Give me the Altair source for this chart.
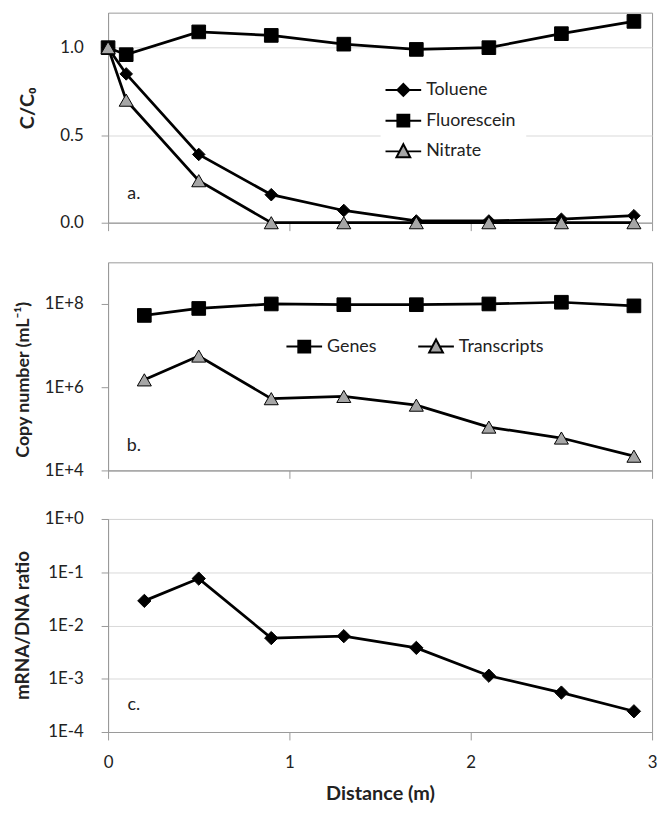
import altair as alt
import pandas as pd

# ---------------- data ----------------
dist_a = [0, 0.1, 0.5, 0.9, 1.3, 1.7, 2.1, 2.5, 2.9]
toluene = [1.0, 0.85, 0.39, 0.16, 0.07, 0.01, 0.01, 0.02, 0.04]
fluorescein = [1.0, 0.96, 1.09, 1.07, 1.02, 0.99, 1.0, 1.08, 1.15]
nitrate = [1.0, 0.70, 0.24, 0.0, 0.0, 0.0, 0.0, 0.0, 0.0]
series_a = ["Toluene", "Fluorescein", "Nitrate"]

dist_b = [0.2, 0.5, 0.9, 1.3, 1.7, 2.1, 2.5, 2.9]
genes = [5.3e7, 7.8e7, 1.0e8, 9.6e7, 9.6e7, 1.0e8, 1.1e8, 9.0e7]
transcripts = [1.5e6, 5.6e6, 5.3e5, 6.0e5, 3.7e5, 1.1e5, 6.0e4, 2.2e4]
series_b = ["Genes", "Transcripts"]

ratio = [0.029, 0.076, 0.0058, 0.0063, 0.0038, 0.00114, 0.00055, 0.000245]

x_ticks = [0, 1, 2, 3]
ticks_a = [0, 0.5, 1.0]
ticks_b = [1e4, 1e6, 1e8]
ticks_c = [1e-4, 1e-3, 1e-2, 1e-1, 1]
panel_labels = ["a.", "b.", "c."]

# ---------------- styles ----------------
FONT = "Lato"
TXT = "#222222"
GRAY = "#a6a6a6"
W = 549
LINE_W = 2.75

P_DIAMOND = "M-1.5,0H1.5M0,-0.5L0.5,0L0,0.5L-0.5,0Z"
P_SQUARE = "M-1.5,0H1.5M-0.5,-0.5H0.5V0.5H-0.5Z"
P_TRI = "M-1.5,0H-0.3M0.3,0H1.5M0,-0.6L0.58,0.5L-0.58,0.5Z"

df_a = pd.DataFrame({
    "dist": dist_a * 3,
    "value": toluene + fluorescein + nitrate,
    "sa": [series_a[0]] * 9 + [series_a[1]] * 9 + [series_a[2]] * 9,
})
df_b = pd.DataFrame({
    "dist": dist_b * 2,
    "value": genes + transcripts,
    "sb": [series_b[0]] * 8 + [series_b[1]] * 8,
})
df_c = pd.DataFrame({"dist": dist_b, "value": ratio})


def x_enc(show_labels):
    if show_labels:
        ax = alt.Axis(values=x_ticks, title="Distance (m)", tickSize=8, labelPadding=15,
                      labelFlush=False, grid=False, titlePadding=13)
    else:
        ax = alt.Axis(values=x_ticks, labels=False, title=None, tickSize=8, grid=False)
    return alt.X("dist:Q", scale=alt.Scale(domain=[0, 3], nice=False), axis=ax)


def letter(idx, y):
    return alt.Chart(pd.DataFrame({"t": [panel_labels[idx]]})).mark_text(
        font=FONT, fontSize=18, color=TXT, align="center", baseline="middle"
    ).encode(text="t:N", x=alt.value(26), y=alt.value(y))


def legend(x, y, direction, columns, pad, row_pad, col_pad):
    return alt.Legend(
        title=None, orient="none", legendX=x, legendY=y, direction=direction,
        columns=columns, padding=pad, fillColor="white", symbolOpacity=1,
        symbolStrokeWidth=2, symbolSize=576,
        labelFont=FONT, labelFontSize=18, labelColor=TXT, labelOffset=10,
        rowPadding=row_pad, columnPadding=col_pad,
    )


def legend_layer(base, field, domain, paths, fills, leg):
    return base.mark_point(opacity=0, filled=True, stroke="black", strokeWidth=2).encode(
        shape=alt.Shape(field, scale=alt.Scale(domain=domain, range=paths), legend=leg),
        fill=alt.Fill(field, scale=alt.Scale(domain=domain, range=fills), legend=leg),
        stroke=alt.Stroke(field, scale=alt.Scale(domain=domain, range=["black"] * len(domain)), legend=leg),
    )


# ---------------- panel a ----------------
H_A = 212
y_a = alt.Y("value:Q", scale=alt.Scale(domain=[0, 1.2], nice=False),
            axis=alt.Axis(values=ticks_a, format=".1f", title="C/C₀", grid=True,
                          tickSize=7, labelPadding=18, titleAngle=270, titleX=-81,
                          titleY=96, titleAlign="center", titleBaseline="middle"))
base_a = alt.Chart(df_a).encode(x=x_enc(False), y=y_a)
lines_a = base_a.mark_line(color="black", strokeWidth=LINE_W).encode(detail="sa:N")
pts_tol = base_a.transform_filter(alt.datum.sa == series_a[0]).mark_point(
    shape="diamond", size=160, filled=True, fill="black", stroke="black", strokeWidth=1, opacity=1)
pts_flu = base_a.transform_filter(alt.datum.sa == series_a[1]).mark_point(
    shape="square", size=190, filled=True, fill="black", stroke="black", strokeWidth=1, opacity=1)
pts_nit = base_a.transform_filter(alt.datum.sa == series_a[2]).mark_point(
    shape="triangle-up", size=200, filled=True, fill=GRAY, stroke="black", strokeWidth=1, opacity=1)
legend_a = legend_layer(base_a, "sa:N", series_a, [P_DIAMOND, P_SQUARE, P_TRI],
                        ["black", "black", GRAY], legend(275, 55, "vertical", 1, 10, 8, 10))
panel_a = alt.layer(lines_a, pts_tol, pts_flu, pts_nit, legend_a, letter(0, 183)).properties(
    width=W, height=H_A)

# ---------------- panel b ----------------
H_B = 210
LABEL_EXPR = "'1E' + (round(log(datum.value)/LN10) >= 0 ? '+' : '') + round(log(datum.value)/LN10)"
y_b = alt.Y("value:Q", scale=alt.Scale(type="log", domain=[1e4, 1e9], nice=False),
            axis=alt.Axis(values=ticks_b, labelExpr=LABEL_EXPR, title="Copy number (mL⁻¹)",
                          grid=False, tickSize=7, labelPadding=18, titleAngle=270, titleX=-85,
                          titleY=118, titleAlign="center", titleBaseline="middle", titleFontSize=18))
base_b = alt.Chart(df_b).encode(x=x_enc(False), y=y_b)
lines_b = base_b.mark_line(color="black", strokeWidth=LINE_W).encode(detail="sb:N")
pts_gen = base_b.transform_filter(alt.datum.sb == series_b[0]).mark_point(
    shape="square", size=190, filled=True, fill="black", stroke="black", strokeWidth=1, opacity=1)
pts_tra = base_b.transform_filter(alt.datum.sb == series_b[1]).mark_point(
    shape="triangle-up", size=200, filled=True, fill=GRAY, stroke="black", strokeWidth=1, opacity=1)
legend_b = legend_layer(base_b, "sb:N", series_b, [P_SQUARE, P_TRI], ["black", GRAY],
                        legend(185, 72, "horizontal", 2, 0, 8, 38))
panel_b = alt.layer(lines_b, pts_gen, pts_tra, legend_b, letter(1, 185)).properties(
    width=W, height=H_B)

# ---------------- panel c ----------------
H_C = 215
y_c = alt.Y("value:Q", scale=alt.Scale(type="log", domain=[1e-4, 1], nice=False),
            axis=alt.Axis(values=ticks_c, labelExpr=LABEL_EXPR, title="mRNA/DNA ratio",
                          grid=True, tickSize=7, labelPadding=18, titleAngle=270, titleX=-86,
                          titleY=107, titleAlign="center", titleBaseline="middle", titleFontSize=19))
base_c = alt.Chart(df_c).encode(x=x_enc(True), y=y_c)
lines_c = base_c.mark_line(color="black", strokeWidth=LINE_W)
pts_c = base_c.mark_point(shape="diamond", size=180, filled=True, fill="black",
                          stroke="black", strokeWidth=1, opacity=1)
panel_c = alt.layer(lines_c, pts_c, letter(2, 188)).properties(width=W, height=H_C)

chart = alt.vconcat(panel_a, panel_b, panel_c, spacing=30).resolve_scale(
    shape="independent", fill="independent", stroke="independent"
).resolve_legend(
    shape="independent", fill="independent", stroke="independent"
).properties(
    padding={"left": 5, "top": 0, "right": 0, "bottom": 0}
).configure_view(
    stroke="#999999", strokeWidth=1
).configure_axis(
    domainColor="#999999", tickColor="#999999", gridColor="#d9d9d9", domainWidth=1,
    tickWidth=1, labelFont=FONT, labelFontSize=17, labelColor=TXT, titleFont=FONT,
    titleFontSize=20, titleFontWeight="bold", titleColor=TXT,
)

chart.save("out.html", embed_options={"renderer": "svg", "actions": False})
